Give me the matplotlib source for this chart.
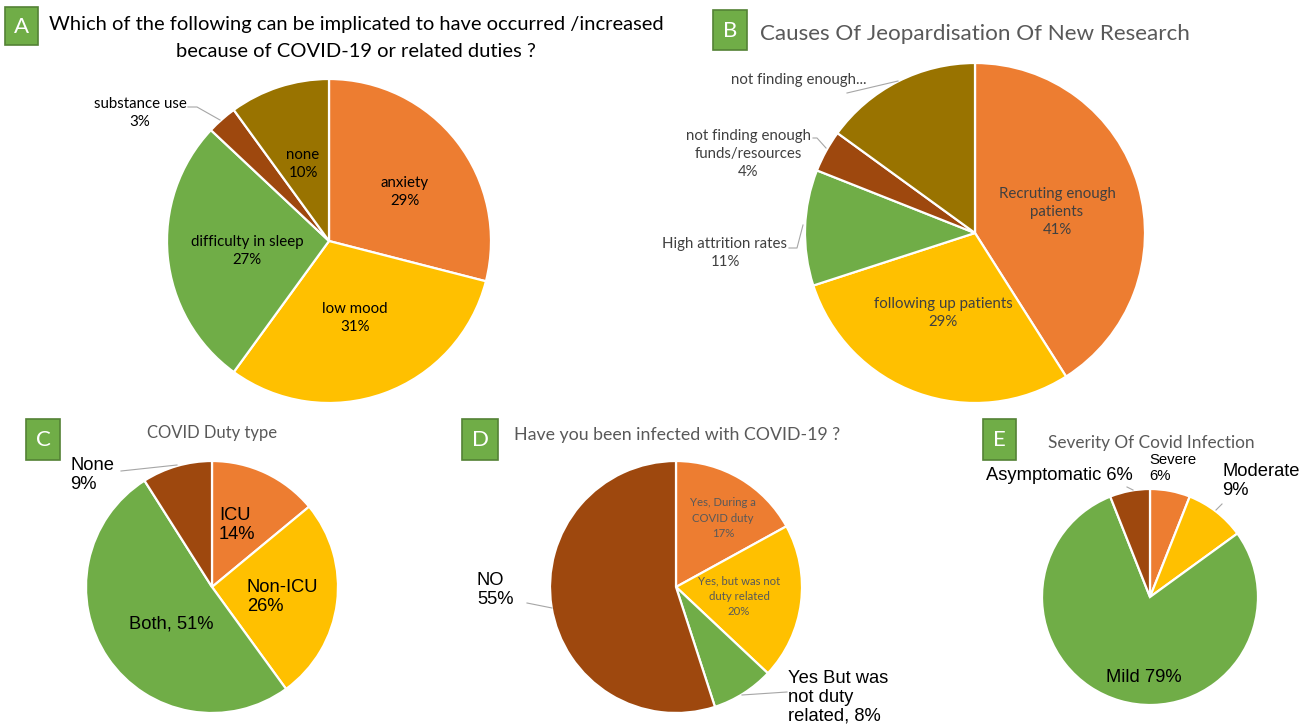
import matplotlib
matplotlib.use("Agg")
import matplotlib.pyplot as plt
from matplotlib.patches import Rectangle

W, H = 1312, 728

ORANGE = "#ED7D31"
YELLOW = "#FFC000"
GREEN = "#70AD47"
BROWN = "#9E480E"
GOLD = "#997300"

# ---------------- data ----------------
a_title = ["Which of the following can be implicated to have occurred /increased",
           "because of COVID-19 or related duties ?"]
a_labels = ["anxiety", "low mood", "difficulty in sleep", "substance use", "none"]
a_values = [29, 31, 27, 3, 10]

b_title = "Causes Of Jeopardisation Of New Research"
b_labels = ["Recruting enough\npatients", "following up patients", "High attrition rates",
            "not finding enough\nfunds/resources", "not finding enough..."]
b_values = [41, 29, 11, 4, 15]

c_title = "COVID Duty type"
c_labels = ["ICU", "Non-ICU", "Both", "None"]
c_values = [14, 26, 51, 9]

d_title = "Have you been infected with COVID-19 ?"
d_labels = ["Yes, During a\nCOVID duty", "Yes, but was not\nduty related",
            "Yes But was\nnot duty\nrelated", "NO"]
d_values = [17, 20, 8, 55]

e_title = "Severity Of Covid Infection"
e_labels = ["Severe", "Moderate", "Mild", "Asymptomatic"]
e_values = [6, 9, 79, 6]

COLORS5 = [ORANGE, YELLOW, GREEN, BROWN, GOLD]
COLORS4 = [ORANGE, YELLOW, GREEN, BROWN]

CAL = ["Lato", "DejaVu Sans"]
ARI = ["Liberation Sans", "DejaVu Sans"]

fig = plt.figure(figsize=(W / 100, H / 100), dpi=100)
ax = fig.add_axes([0, 0, 1, 1])


def Y(y):
    return H - y


def pie(values, colors, cx, cy, r):
    ax.pie(values, colors=colors, startangle=90, counterclock=False,
           center=(cx, Y(cy)), radius=r,
           wedgeprops=dict(edgecolor="white", linewidth=1.6))


def txt(x, y, s, size, color="black", family=CAL, ha="center", va="center", ls=1.2, z=3):
    ax.text(x, Y(y), s, fontsize=size, color=color, family=family,
            ha=ha, va=va, linespacing=ls, zorder=z)


def leader(xs, ys, color="#A6A6A6"):
    ax.plot(xs, [Y(v) for v in ys], color=color, lw=0.8)


def box(x0, y0, x1, y1, letter):
    ax.add_patch(Rectangle((x0, Y(y1)), x1 - x0, y1 - y0, facecolor=GREEN,
                           edgecolor="#548235", lw=1.2, zorder=5))
    txt((x0 + x1) / 2, (y0 + y1) / 2 + 1, letter, 16, color="white", family=CAL, z=6)


# ---------------- Pie A ----------------
pie(a_values, COLORS5, 329, 241, 162)
txt(356, 30, a_title[0], 14.5, va="baseline")
txt(356, 57, a_title[1], 14.5, va="baseline")
lab = [f"{l}\n{v}%" for l, v in zip(a_labels, a_values)]
txt(405, 192, lab[0], 10.8, ls=1.35)
txt(355, 318, lab[1], 10.8, ls=1.35)
txt(247, 251, lab[2], 10.8, ls=1.35)
txt(140, 113, lab[3], 10.8, ls=1.35)
txt(303, 164, lab[4], 10.8, ls=1.35)
leader([188, 197, 220], [107, 107, 120])
box(5, 7, 38, 45, "A")

# ---------------- Pie B ----------------
pie(b_values, COLORS5, 975, 233, 170)
txt(760, 40, b_title, 16.1, color="#595959", ha="left", va="baseline")
lab = [f"{l}\n{v}%" for l, v in zip(b_labels, b_values)]
txt(1057, 212, lab[0], 10.8, color="#404040", ls=1.35)
txt(943, 313, lab[1], 10.8, color="#404040", ls=1.35)
txt(725, 253, lab[2], 10.8, color="#404040", ls=1.35)
txt(748, 154, lab[3], 10.8, color="#404040", ls=1.35)
txt(799, 80, b_labels[4], 10.8, color="#404040")
leader([789, 797, 803], [248, 248, 225])
leader([813, 817, 826], [138, 138, 148])
leader([847, 898], [93, 81])
box(713, 10, 747, 50, "B")

# ---------------- Pie C ----------------
pie(c_values, COLORS4, 212, 587, 126)
txt(212, 438, c_title, 12, color="#595959", va="baseline")
txt(219, 525, f"{c_labels[0]}\n{c_values[0]}%", 13.2, family=ARI, ha="left", ls=1.15)
txt(247, 597, f"{c_labels[1]}\n{c_values[1]}%", 13.2, family=ARI, ha="left", ls=1.15)
txt(171, 624, f"{c_labels[2]}, {c_values[2]}%", 13.2, family=ARI)
txt(70, 475, f"{c_labels[3]}\n{c_values[3]}%", 13.2, family=ARI, ha="left", ls=1.15)
leader([121, 177], [471, 465])
box(26, 419, 60, 460, "C")

# ---------------- Pie D ----------------
pie(d_values, COLORS4, 676, 587, 126)
txt(514, 440, d_title, 12.8, color="#595959", ha="left", va="baseline")
txt(723, 518, f"{d_labels[0]}\n{d_values[0]}%", 8.2, color="#595959", ls=1.45)
txt(739, 596, f"{d_labels[1]}\n{d_values[1]}%", 8.2, color="#595959", ls=1.45)
txt(788, 697, f"{d_labels[2]}, {d_values[2]}%", 13.2, family=ARI, ha="left", ls=1.15)
txt(477, 590, f"{d_labels[3]}\n{d_values[3]}%", 13.2, family=ARI, ha="left", ls=1.15)
leader([527, 552], [603, 608])
leader([742, 787], [695, 692])
box(462, 419, 498, 460, "D")

# ---------------- Pie E ----------------
pie(e_values, COLORS4, 1150, 597, 108)
txt(1048, 448, e_title, 12.4, color="#595959", ha="left", va="baseline")
txt(1149, 468, f"{e_labels[0]}\n{e_values[0]}%", 10.7, family=ARI, ha="left", ls=1.1)
txt(1222, 481, f"{e_labels[1]}\n{e_values[1]}%", 13.2, family=ARI, ha="left", ls=1.1)
txt(1144, 677, f"{e_labels[2]} {e_values[2]}%", 13.2, family=ARI)
txt(1133, 475, f"{e_labels[3]} {e_values[3]}%", 13.2, family=ARI, ha="right")
leader([1127, 1133], [487, 490])
leader([1222, 1216], [504, 510])
box(983, 419, 1016, 460, "E")

ax.set_xlim(0, W)
ax.set_ylim(0, H)
ax.set_aspect("auto")
ax.axis("off")

fig.savefig("out.png", dpi=100, facecolor="white")
